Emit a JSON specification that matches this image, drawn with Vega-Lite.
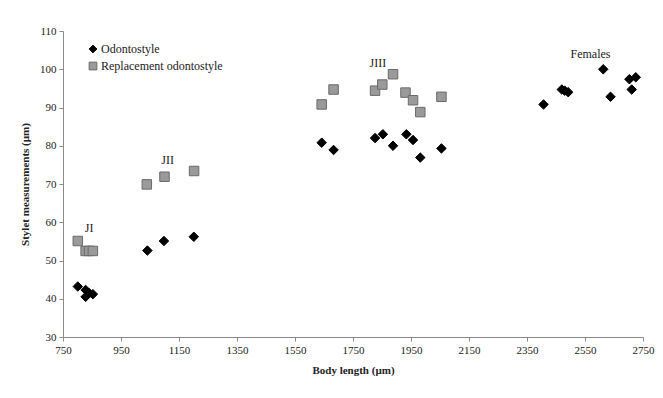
{
  "$schema": "https://vega.github.io/schema/vega-lite/v6.json",
  "width": 580,
  "height": 306,
  "autosize": {"type": "none"},
  "padding": {"left": 63, "top": 31, "right": 20, "bottom": 61},
  "background": "white",
  "config": {
    "view": {"stroke": null},
    "font": "Liberation Serif",
    "axis": {"grid": false, "domainColor": "#8a8a8a", "tickColor": "#8a8a8a", "tickSize": 4, "labelFont": "Liberation Serif", "labelFontSize": 11, "labelColor": "#222", "titleFont": "Liberation Serif", "titleFontSize": 11, "titleFontWeight": "bold", "titleColor": "#222", "labelOverlap": false, "labelFlush": false}
  },
  "datasets": {
    "points": [
      {"length": 801, "stylet": 43.2, "series": "Odontostyle"},
      {"length": 828, "stylet": 42.3, "series": "Odontostyle"},
      {"length": 828, "stylet": 40.5, "series": "Odontostyle"},
      {"length": 840, "stylet": 41.5, "series": "Odontostyle"},
      {"length": 853, "stylet": 41.2, "series": "Odontostyle"},
      {"length": 1041, "stylet": 52.6, "series": "Odontostyle"},
      {"length": 1098, "stylet": 55.1, "series": "Odontostyle"},
      {"length": 1201, "stylet": 56.2, "series": "Odontostyle"},
      {"length": 1642, "stylet": 80.8, "series": "Odontostyle"},
      {"length": 1683, "stylet": 78.9, "series": "Odontostyle"},
      {"length": 1826, "stylet": 82.0, "series": "Odontostyle"},
      {"length": 1853, "stylet": 83.0, "series": "Odontostyle"},
      {"length": 1888, "stylet": 80.0, "series": "Odontostyle"},
      {"length": 1934, "stylet": 83.0, "series": "Odontostyle"},
      {"length": 1957, "stylet": 81.5, "series": "Odontostyle"},
      {"length": 1982, "stylet": 76.9, "series": "Odontostyle"},
      {"length": 2055, "stylet": 79.3, "series": "Odontostyle"},
      {"length": 2407, "stylet": 90.8, "series": "Odontostyle"},
      {"length": 2470, "stylet": 94.7, "series": "Odontostyle"},
      {"length": 2480, "stylet": 94.4, "series": "Odontostyle"},
      {"length": 2492, "stylet": 94.0, "series": "Odontostyle"},
      {"length": 2613, "stylet": 100.0, "series": "Odontostyle"},
      {"length": 2638, "stylet": 92.8, "series": "Odontostyle"},
      {"length": 2703, "stylet": 97.4, "series": "Odontostyle"},
      {"length": 2725, "stylet": 97.9, "series": "Odontostyle"},
      {"length": 2711, "stylet": 94.7, "series": "Odontostyle"},
      {"length": 801, "stylet": 55.1, "series": "Replacement odontostyle"},
      {"length": 828, "stylet": 52.5, "series": "Replacement odontostyle"},
      {"length": 840, "stylet": 52.5, "series": "Replacement odontostyle"},
      {"length": 853, "stylet": 52.5, "series": "Replacement odontostyle"},
      {"length": 1039, "stylet": 69.9, "series": "Replacement odontostyle"},
      {"length": 1100, "stylet": 71.9, "series": "Replacement odontostyle"},
      {"length": 1202, "stylet": 73.4, "series": "Replacement odontostyle"},
      {"length": 1642, "stylet": 90.8, "series": "Replacement odontostyle"},
      {"length": 1683, "stylet": 94.7, "series": "Replacement odontostyle"},
      {"length": 1826, "stylet": 94.4, "series": "Replacement odontostyle"},
      {"length": 1851, "stylet": 96.0, "series": "Replacement odontostyle"},
      {"length": 1888, "stylet": 98.7, "series": "Replacement odontostyle"},
      {"length": 1931, "stylet": 93.9, "series": "Replacement odontostyle"},
      {"length": 1957, "stylet": 91.9, "series": "Replacement odontostyle"},
      {"length": 1982, "stylet": 88.8, "series": "Replacement odontostyle"},
      {"length": 2055, "stylet": 92.8, "series": "Replacement odontostyle"}
    ],
    "labels": [
      {"length": 840, "stylet": 58.4, "label": "JI"},
      {"length": 1111, "stylet": 76.4, "label": "JII"},
      {"length": 1836, "stylet": 101.7, "label": "JIII"},
      {"length": 2569, "stylet": 103.9, "label": "Females"}
    ]
  },
  "layer": [
    {
      "data": {"name": "points"},
      "mark": {"type": "point", "filled": true, "opacity": 1, "strokeWidth": 1, "size": 90},
      "encoding": {
        "x": {"field": "length", "type": "quantitative", "title": "Body length (µm)", "scale": {"domain": [750, 2750], "nice": false}, "axis": {"values": [750, 950, 1150, 1350, 1550, 1750, 1950, 2150, 2350, 2550, 2750], "tickCount": 20, "format": "d", "labelPadding": 3, "titlePadding": 9}},
        "y": {"field": "stylet", "type": "quantitative", "title": "Stylet measurements (µm)", "scale": {"domain": [30, 110], "nice": false, "zero": false}, "axis": {"values": [30, 40, 50, 60, 70, 80, 90, 100, 110], "tickCount": 20, "format": "d", "labelPadding": 3, "titlePadding": 9}},
        "shape": {"field": "series", "type": "nominal", "scale": {"domain": ["Odontostyle", "Replacement odontostyle"], "range": ["diamond", "square"]}, "legend": {"title": null, "orient": "none", "legendX": 24, "legendY": 12, "labelFont": "Liberation Serif", "labelFontSize": 12, "labelColor": "#222", "symbolSize": 60, "rowPadding": 5, "symbolStrokeWidth": 1, "labelOffset": 2}},
        "fill": {"field": "series", "type": "nominal", "scale": {"domain": ["Odontostyle", "Replacement odontostyle"], "range": ["#000000", "#9a9a9a"]}},
        "stroke": {"field": "series", "type": "nominal", "scale": {"domain": ["Odontostyle", "Replacement odontostyle"], "range": ["#000000", "#6a6a6a"]}}
      }
    },
    {
      "data": {"name": "labels"},
      "mark": {"type": "text", "font": "Liberation Serif", "fontSize": 12, "color": "#222"},
      "encoding": {
        "x": {"field": "length", "type": "quantitative"},
        "y": {"field": "stylet", "type": "quantitative"},
        "text": {"field": "label", "type": "nominal"}
      }
    }
  ]
}
